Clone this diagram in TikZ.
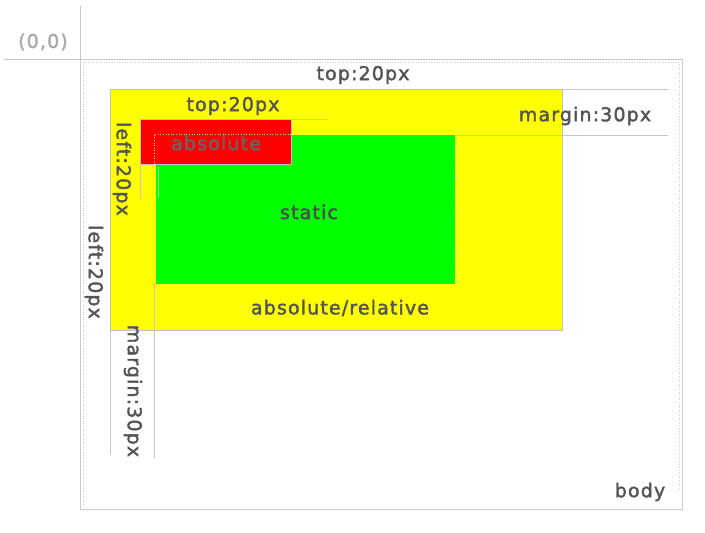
\documentclass[tikz,border=0pt]{standalone}
\usepackage{fontspec}
\setmainfont{DejaVu Sans}[LetterSpace=6, FakeBold=2]
\definecolor{yel}{RGB}{255,255,0}
\definecolor{grn}{RGB}{0,255,0}
\definecolor{rd}{RGB}{255,0,0}
\begin{document}
\begin{tikzpicture}[x=1pt,y=-1pt,
  guide/.style={draw=black!22, line width=0.8pt},
  dotguide/.style={draw=black!20, line width=0.6pt, dotted},
  boxnode/.style={draw=black!25, line width=0.8pt, inner sep=0pt, anchor=north west},
  lbl/.style={text=black!67, font=\fontsize{19}{21}\selectfont, inner sep=0pt},
  vlbl/.style={lbl, rotate=-90}]
\useasboundingbox (0,0) rectangle (705,533);
% body
\node[boxnode, draw=black!20, minimum width=602pt, minimum height=450pt] (body) at (80,59) {};
\draw[dotguide] (83,62) -- (679,62) -- (679,490);
\draw[dotguide] (83,62) -- (83,506);
\coordinate (axtop) at (80,6);
\coordinate (axleft) at (4,59);
\draw[guide] (axtop) -- (body.north west) -- (axleft);
% yellow box
\node[boxnode, fill=yel, minimum width=452pt, minimum height=241pt] (yelbox) at (110,89) {};
% green box
\node[boxnode, draw=none, fill=grn, minimum width=299pt, minimum height=149pt] (grnbox) at (156,135) {};
% red box
\node[boxnode, fill=rd, minimum width=151pt, minimum height=45pt] (redbox) at (140,119) {};
\draw[draw=white!85!black, line width=0.6pt, dotted] (154,164) -- (154,134) -- (291,134);
\draw[draw=white!70!green, line width=0.8pt] (158,167) -- (158,198);
\draw[draw=white!70!green, line width=0.6pt, dotted] (457,134) -- (457,285);
% extension guides
\coordinate (e1) at (668,89);
\coordinate (e2) at (668,135);
\coordinate (e3) at (328,119);
\coordinate (e4) at (140,200);
\coordinate (e5) at (110,455);
\coordinate (e6) at (154,458);
\coordinate (g6) at (154,284);
\draw[guide] (yelbox.north east) -- (e1);
\draw[guide] (grnbox.north east) -- (e2);
\draw[guide] (redbox.north east) -- (e3);
\draw[guide] (redbox.south west) -- (e4);
\draw[guide] (yelbox.south west) -- (e5);
\draw[guide] (g6) -- (e6);
% labels
\node[lbl, text=black!33] (origin) at (43,42) {(0,0)};
\node[lbl] (toptop) at (363,75) {top:20px};
\node[lbl] (topin) at (233,106) {top:20px};
\node[lbl] (margr) at (585,116) {margin:30px};
\node[vlbl] (leftin) at (122,169) {left:20px};
\node[vlbl] (leftout) at (94,272) {left:20px};
\node[vlbl] (margl) at (133,391) {margin:30px};
\node[lbl, text=black!60] (abs) at (216,143) {absolute};
\node[lbl, text=black!70] (stat) at (309,212) {static};
\node[lbl] (absrel) at (340,308) {absolute/relative};
\node[lbl] (bodyl) at (640,492) {body};
\end{tikzpicture}
\end{document}
